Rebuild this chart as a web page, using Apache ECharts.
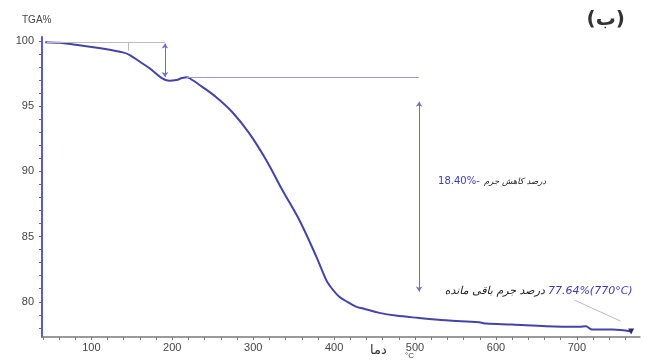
<!DOCTYPE html>
<html>
<head>
<meta charset="utf-8">
<script src="https://cdn.jsdelivr.net/npm/echarts@6/dist/echarts.min.js"></script>
<style>html,body{margin:0;padding:0;background:#fff}#c{width:651px;height:361px}</style>
</head>
<body>
<div id="c"></div>
<script>
// ---- data ----
const temperature = [43, 60, 85, 105, 126, 140, 148, 160, 172, 187, 196, 205, 212, 218, 222, 237, 254, 274, 295, 316, 336, 357, 378, 390, 395, 406, 415, 427, 436, 456, 476, 503, 538, 579, 588, 620, 662, 703, 711, 719, 744, 767];
const massPercent = [99.9, 99.85, 99.67, 99.5, 99.28, 99.1, 98.9, 98.4, 97.9, 97.15, 96.95, 97.0, 97.15, 97.22, 97.12, 96.48, 95.7, 94.55, 92.93, 90.87, 88.57, 86.27, 83.46, 81.7, 81.2, 80.4, 80.04, 79.63, 79.48, 79.15, 78.94, 78.77, 78.58, 78.43, 78.33, 78.25, 78.12, 78.08, 78.12, 77.87, 77.87, 77.72];
const xTickLabels = [100, 200, 300, 400, 500, 600, 700];
const xTickMarks = [40, 60, 80, 100, 120, 140, 160, 180, 200, 220, 240, 260, 280, 300, 320, 340, 360, 380, 400, 420, 440, 460, 480, 500, 520, 540, 560, 580, 600, 620, 640, 660, 680, 700, 720, 740, 760];
const yTickLabels = [80, 85, 90, 95, 100];
const yTickMarks = [78, 79, 80, 81, 82, 83, 84, 85, 86, 87, 88, 89, 90, 91, 92, 93, 94, 95, 96, 97, 98, 99, 100];
// annotation values
const startLevel = 99.9;      // initial mass level
const plateauLevel = 97.24;   // after first step
const firstStepT = 191;       // first arrow position
const tangentT = 146;
const mainArrowT = 505;
const mainArrowTop = 95.33, mainArrowBottom = 80.78;
const lossLabel = '18.40%-';
const lossText = 'درصد کاهش جرم';
const residualLabel = '77.64%(770°C)';
const residualText = 'درصد جرم باقی مانده';

const curve = temperature.map((t, i) => [t, massPercent[i]]);
const lastPoint = curve[curve.length - 1];

const chart = echarts.init(document.getElementById('c'), null, {renderer: 'canvas'});
const purple = '#4444a8';
const arrowCol = '#6f6fc2';
const grayCol = '#b9b9c9';

function seg(a, b, color, arrows, width) {
  return [
    {coord: a, symbol: arrows ? 'arrow' : 'none', symbolSize: arrows ? 5 : 0, lineStyle: {color: color, width: width || 1, type: 'solid'}},
    {coord: b, symbol: arrows ? 'arrow' : 'none', symbolSize: arrows ? 5 : 0}
  ];
}
function txt(coord, text, color, align, size, italic) {
  return {
    coord: coord, symbol: 'rect', symbolSize: 0, itemStyle: {color: 'rgba(0,0,0,0)'},
    label: {show: true, position: 'inside', formatter: text, color: color, align: align, verticalAlign: 'middle',
            fontSize: size, fontFamily: 'DejaVu Sans, Liberation Sans, sans-serif', fontStyle: italic ? 'italic' : 'normal'}
  };
}

chart.setOption({
  animation: false,
  backgroundColor: '#ffffff',
  title: [
    {text: 'TGA%', left: 22, top: 15, padding: 0, textStyle: {fontSize: 10, fontWeight: 'normal', color: '#444', fontFamily: 'Liberation Sans'}},
    {text: '(ب)', right: 26, top: 10, padding: 0, textStyle: {fontSize: 20, fontWeight: 'bold', color: '#333', fontFamily: 'DejaVu Sans'}},
    {text: 'دما', left: 370, top: 344, padding: 0, textStyle: {fontSize: 13, fontWeight: 'normal', color: '#333', fontFamily: 'DejaVu Sans'}},
    {text: '°C', left: 405, top: 352, padding: 0, textStyle: {fontSize: 8, fontWeight: 'normal', color: '#444', fontFamily: 'Liberation Sans'}}
  ],
  grid: {left: 42, right: 11, top: 37, bottom: 24},
  xAxis: {
    type: 'value', min: 39, max: 778,
    splitLine: {show: false},
    axisLine: {lineStyle: {color: '#7a7a7a', width: 1.5}},
    axisTick: {show: true, customValues: xTickMarks, length: 3, lineStyle: {color: '#7a7a7a'}},
    axisLabel: {customValues: xTickLabels, fontSize: 11, color: '#444', margin: 5, fontFamily: 'Liberation Sans'}
  },
  yAxis: {
    type: 'value', min: 77.3, max: 100.3,
    splitLine: {show: false},
    axisLine: {show: true, lineStyle: {color: '#5a5acd', width: 2}},
    axisTick: {show: true, customValues: yTickMarks, length: 3, lineStyle: {color: '#5a5acd'}},
    axisLabel: {customValues: yTickLabels, fontSize: 11, color: '#444', margin: 8, fontFamily: 'Liberation Sans'}
  },
  series: [{
    type: 'line',
    data: curve,
    showSymbol: false,
    smooth: 0.35,
    lineStyle: {color: purple, width: 2},
    markLine: {
      silent: true, animation: false, symbol: 'none',
      label: {show: false},
      data: [
        seg([45, startLevel], [firstStepT, startLevel], grayCol, false),
        seg([tangentT, startLevel], [tangentT, 99.25], grayCol, false),
        seg([firstStepT, 99.8], [firstStepT, plateauLevel], arrowCol, true),
        seg([218, plateauLevel], [mainArrowT, plateauLevel], '#9a9ad4', false),
        seg([mainArrowT, mainArrowTop], [mainArrowT, mainArrowBottom], arrowCol, true),
        seg([697, 80.13], [754, 78.52], grayCol, false)
      ]
    },
    markPoint: {
      silent: true, animation: false,
      data: [
        txt([528.4, 89.2], lossLabel, '#3c3cb4', 'left', 10, false),
        txt([662, 89.2], lossText, '#222', 'right', 8.5, true),
        txt([664.2, 80.78], residualLabel, '#3c3cb4', 'left', 11, true),
        txt([660.5, 80.78], residualText, '#222', 'right', 11, true),
        {coord: lastPoint, symbol: 'triangle', symbolRotate: 180, symbolSize: 6, itemStyle: {color: '#2a2a80'}, label: {show: false}}
      ]
    }
  }]
});
</script>
</body>
</html>
